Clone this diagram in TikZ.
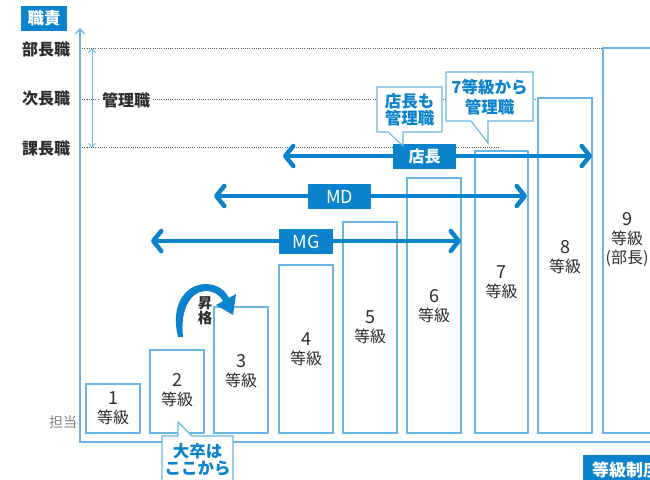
\documentclass[tikz,border=0pt]{standalone}
\usepackage{fontspec}
\setmainfont{Noto Sans CJK JP}
\usetikzlibrary{arrows.meta}
\definecolor{dblue}{RGB}{10,130,204}
\definecolor{lblue}{RGB}{105,182,230}
\definecolor{txt}{RGB}{45,45,45}
\definecolor{tgray}{RGB}{130,130,130}
\newcommand{\gnum}[1]{{\fontsize{18}{19}\selectfont #1}}
\begin{document}
\begin{tikzpicture}[x=1pt,y=-1pt,
  grade/.style={draw=lblue,line width=1.1pt,fill=white,inner sep=0pt},
  glab/.style={text=txt,font=\fontsize{16}{19}\selectfont,align=center,inner sep=0pt},
  rolelab/.style={text=txt,font=\bfseries\fontsize{16}{18}\selectfont,inner sep=0pt},
  tag/.style={fill=dblue,text=white,font=\bfseries\fontsize{16}{18}\selectfont,inner sep=0pt},
  bigarrow/.style={draw=dblue,line width=4.5pt,{Straight Barb[length=8pt,width=20pt,round]}-{Straight Barb[length=8pt,width=20pt,round]}},
  guide/.style={draw=black!65,line width=0.6pt,dash pattern=on 1pt off 1.2pt},
  callout/.style={text=dblue,font=\bfseries\fontsize{16.5}{17}\selectfont,align=center,inner sep=0pt},
  cline/.style={draw=lblue,line width=1.1pt,fill=white}
]
\clip (0,0) rectangle (650,479);
\fill[white] (0,0) rectangle (650,479);

% ---- role levels (dotted guides)
\coordinate (d1s) at (80,48);  \coordinate (d1e) at (603,48);
\coordinate (d2s) at (80,99);  \coordinate (d2e) at (538,99);
\coordinate (d3s) at (80,147); \coordinate (d3e) at (500,147);
\draw[guide] (d1s) -- (d1e);
\draw[guide] (d2s) -- (d2e);
\draw[guide] (d3s) -- (d3e);

% ---- axis
\coordinate (axtop) at (80,28);
\coordinate (axcorner) at (80,442);
\coordinate (axright) at (660,442);
\draw[lblue,line width=1.3pt,-{Straight Barb[length=5pt,width=9pt]}] (axright) -- (axcorner) -- (axtop);

\node[fill=dblue,text=white,font=\bfseries\fontsize{16.5}{18}\selectfont,minimum width=46pt,minimum height=25pt,inner sep=0pt] (axtitle) at (44,18.5) {職責};

\node[rolelab] (r1) at (46,49) {部長職};
\node[rolelab] (r2) at (46,98) {次長職};
\node[rolelab] (r3) at (46,148) {課長職};
\node[text=tgray,font=\fontsize{14}{16}\selectfont,inner sep=0pt] (tanto) at (63,422) {担当};

% management span
\coordinate (m1) at (92,48); \coordinate (m2) at (92,148);
\draw[lblue,line width=0.9pt,{Straight Barb[length=4pt,width=7pt]}-{Straight Barb[length=4pt,width=7pt]}] (m1) -- (m2);
\node[rolelab,fill=white,inner xsep=2pt,inner ysep=1pt] (kanri) at (126,100) {管理職};

% ---- grade boxes
\node[grade,minimum width=54pt,minimum height=49pt] (g1) at (113,408.5) {};
\node[grade,minimum width=54pt,minimum height=83pt] (g2) at (177,391.5) {};
\node[grade,minimum width=54pt,minimum height=126pt] (g3) at (241,370) {};
\node[grade,minimum width=54pt,minimum height=168pt] (g4) at (306,349) {};
\node[grade,minimum width=54pt,minimum height=211pt] (g5) at (370,327.5) {};
\node[grade,minimum width=54pt,minimum height=255pt] (g6) at (434,305.5) {};
\node[grade,minimum width=53pt,minimum height=282pt] (g7) at (501.5,292) {};
\node[grade,minimum width=54pt,minimum height=335pt] (g8) at (565,265.5) {};
\node[grade,minimum width=97pt,minimum height=385pt] (g9) at (651.5,240.5) {};

\node[glab] (l1) at (113,408) {\gnum{1}\\等級};
\node[glab] (l2) at (177,390) {\gnum{2}\\等級};
\node[glab] (l3) at (241,371) {\gnum{3}\\等級};
\node[glab] (l4) at (306,349) {\gnum{4}\\等級};
\node[glab] (l5) at (370,327) {\gnum{5}\\等級};
\node[glab] (l6) at (434,306) {\gnum{6}\\等級};
\node[glab] (l7) at (501.5,282) {\gnum{7}\\等級};
\node[glab] (l8) at (565,257) {\gnum{8}\\等級};
\node[glab] (l9) at (627,240) {\gnum{9}\\等級\\(部長)};

% ---- promotion arrow
\fill[dblue] (178,337) .. controls (170,305) and (185,285) .. (205,284)
  .. controls (217,284) and (225,290) .. (229,298)
  -- (223,301) .. controls (219,294) and (213,291) .. (205,291)
  .. controls (190,292) and (180,310) .. (183,337) -- cycle;
\coordinate (hA) at (236,294); \coordinate (hB) at (216,305); \coordinate (hT) at (233,315);
\fill[dblue] (hA) -- (hT) -- (hB) -- cycle;
\node[text=txt,font=\bfseries\fontsize{14.5}{15}\selectfont,align=center,inner sep=0pt] (shokaku) at (205,311) {昇\\格};

% ---- role ranges
\coordinate (mgL) at (151,241); \coordinate (mgR) at (461,241);
\coordinate (mdL) at (214,196); \coordinate (mdR) at (527,196);
\coordinate (tcL) at (283,156); \coordinate (tcR) at (592,156);
\draw[bigarrow] (mgL) -- (mgR);
\draw[bigarrow] (mdL) -- (mdR);
\draw[bigarrow] (tcL) -- (tcR);
\node[tag,font=\fontsize{18}{18}\selectfont,minimum width=54pt,minimum height=25pt] (mg) at (306,241.5) {MG};
\node[tag,font=\fontsize{18}{18}\selectfont,minimum width=63pt,minimum height=25pt] (md) at (339.5,196.5) {MD};
\node[tag,minimum width=63pt,minimum height=25pt] (tencho) at (424.5,156.5) {店長};

% ---- callouts
\coordinate (c1a) at (377,87); \coordinate (c1b) at (442,87); \coordinate (c1c) at (442,132);
\coordinate (c1r) at (403,132); \coordinate (c1t) at (403,146); \coordinate (c1l) at (388,132); \coordinate (c1d) at (377,132);
\draw[cline] (c1a) -- (c1b) -- (c1c) -- (c1r) -- (c1t) -- (c1l) -- (c1d) -- cycle;
\node[callout] (c1) at (409.5,110) {店長も\\管理職};

\coordinate (c2a) at (446,72); \coordinate (c2b) at (533,72); \coordinate (c2c) at (533,121);
\coordinate (c2r) at (488,121); \coordinate (c2t) at (488,143); \coordinate (c2l) at (471,121); \coordinate (c2d) at (446,121);
\draw[cline] (c2a) -- (c2b) -- (c2c) -- (c2r) -- (c2t) -- (c2l) -- (c2d) -- cycle;
\node[callout,font=\bfseries\fontsize{16.5}{20}\selectfont] (c2) at (489.5,97.5) {7等級から\\管理職};

\coordinate (c3a) at (162,436); \coordinate (c3l) at (178,436); \coordinate (c3t) at (178,422); \coordinate (c3r) at (192,436);
\coordinate (c3b) at (233,436); \coordinate (c3c) at (233,500); \coordinate (c3d) at (162,500);
\draw[cline] (c3a) -- (c3l) -- (c3t) -- (c3r) -- (c3b) -- (c3c) -- (c3d) -- cycle;
\node[callout] (c3) at (197.5,459.5) {大卒は\\ここから};

% ---- footer tag
\node[fill=dblue,text=white,font=\bfseries\fontsize{17}{18}\selectfont,anchor=north west,minimum height=30pt,inner xsep=9pt,inner ysep=0pt] (sys) at (583,455) {等級制度};
\end{tikzpicture}
\end{document}
